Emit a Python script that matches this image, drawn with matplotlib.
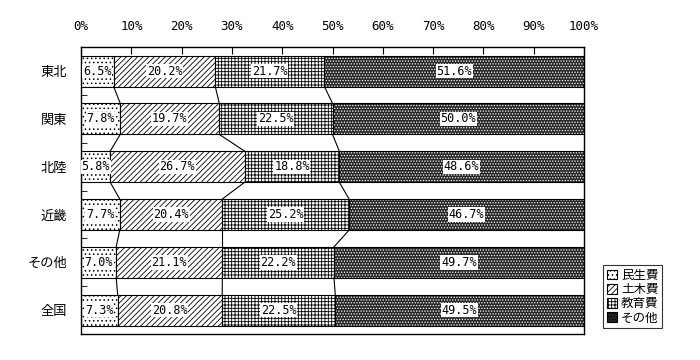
import numpy as np
import matplotlib.pyplot as plt
from matplotlib.patches import Patch

plt.rcParams['font.family'] = ['Noto Sans CJK JP', 'DejaVu Sans']
plt.rcParams['hatch.linewidth'] = 0.6

regions = ['東北', '関東', '北陸', '近畿', 'その他', '全国']
series = ['民生費', '土木費', '教育費', 'その他']
minsei = [6.5, 7.8, 5.8, 7.7, 7.0, 7.3]
doboku = [20.2, 19.7, 26.7, 20.4, 21.1, 20.8]
kyoiku = [21.7, 22.5, 18.8, 25.2, 22.2, 22.5]
sonota = [51.6, 50.0, 48.6, 46.7, 49.7, 49.5]

vals = np.array([minsei, doboku, kyoiku, sonota])
share = vals / vals.sum(axis=0) * 100  # 100%積み上げ

styles = [  # (面の色, ハッチ, ハッチ色)
    ('white', '....', 'black'),
    ('white', '//////', 'black'),
    ('white', '+++++', 'black'),
    ('#262626', '......', 'white'),
]

fig = plt.figure(figsize=(7, 3.6), dpi=100)
ax = fig.add_axes([0.1157, 0.072, 0.7186, 0.797])

y = np.arange(len(regions))
h = 0.65
left = np.zeros(len(regions))
for j in range(4):
    fc, hat, hc = styles[j]
    ax.barh(y, share[j], h, left=left, color=fc, hatch=hat, edgecolor=hc, linewidth=0)
    ax.barh(y, share[j], h, left=left, fill=False, edgecolor='black', linewidth=0.8)
    for i in range(len(regions)):
        ax.text(left[i] + share[j][i] / 2, y[i], '%.1f%%' % vals[j][i],
                ha='center', va='center', fontsize=8.5, family='DejaVu Sans Mono',
                bbox=dict(facecolor='white', edgecolor='none', pad=0.5))
    left = left + share[j]

# 区分線
cum = np.cumsum(share, axis=0)
for k in range(3):
    for i in range(len(regions) - 1):
        ax.plot([cum[k][i], cum[k][i + 1]], [y[i] + h / 2, y[i + 1] - h / 2],
                color='black', lw=0.8)

ax.set_xlim(0, 100)
ax.set_ylim(len(regions) - 0.5, -0.5)
ax.xaxis.tick_top()
ax.set_xticks(np.arange(0, 101, 10))
ax.set_xticklabels(['%d%%' % v for v in range(0, 101, 10)], fontsize=9, family='DejaVu Sans Mono')
ax.tick_params(axis='x', direction='in', length=5, pad=10)
ax.set_yticks(y)
ax.set_yticklabels(regions, fontsize=9.5)
ax.tick_params(axis='y', length=0, pad=10)
ax.set_yticks(np.arange(0.5, len(regions) - 1), minor=True)
ax.tick_params(axis='y', which='minor', direction='in', length=4)
for s in ax.spines.values():
    s.set_linewidth(1)

handles = [Patch(facecolor=fc, hatch=hat, edgecolor='black', linewidth=0.8) for fc, hat, hc in styles]
leg = fig.legend(handles, series, loc='lower left', bbox_to_anchor=(0.862, 0.088),
                 fontsize=9, frameon=True, fancybox=False, edgecolor='black',
                 handlelength=0.8, handleheight=0.8, handletextpad=0.3,
                 labelspacing=0.1, borderpad=0.3, borderaxespad=0)
leg.get_frame().set_linewidth(0.8)

plt.savefig('out.png', dpi=100)
